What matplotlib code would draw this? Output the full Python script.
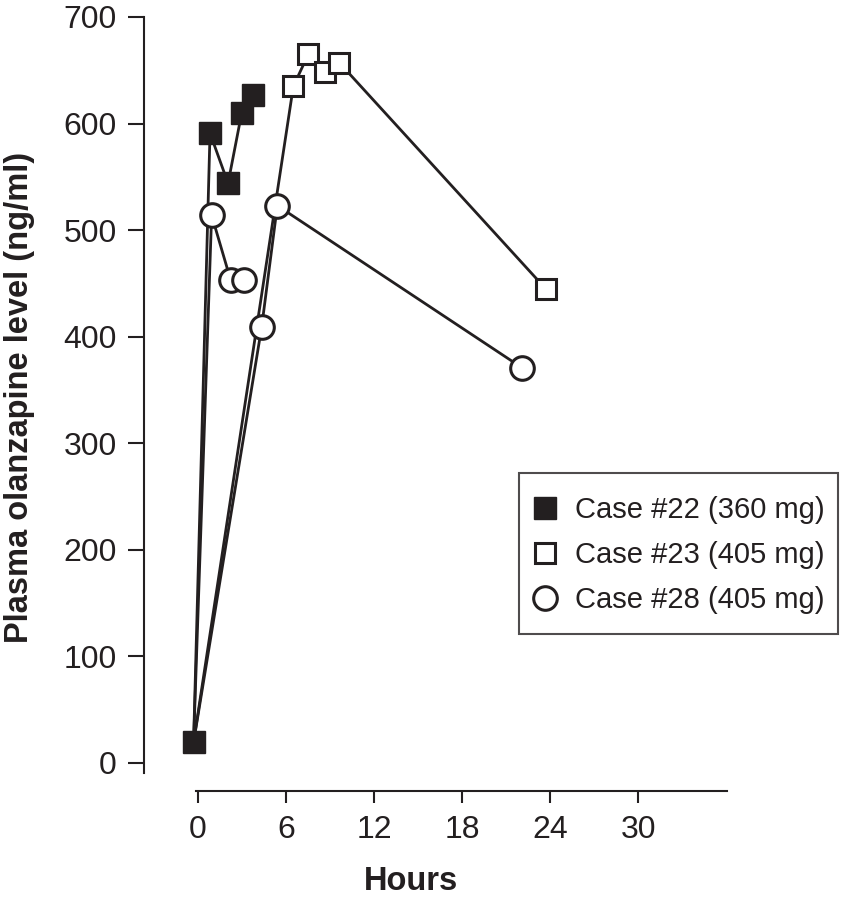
import numpy as np
import matplotlib
matplotlib.use("Agg")
import matplotlib.pyplot as plt
from matplotlib.lines import Line2D
from matplotlib.legend_handler import HandlerLine2D

plt.rcParams["font.family"] = ["Liberation Sans", "DejaVu Sans"]

INK = "#231f20"

# hours after ingestion / plasma olanzapine (ng/ml)
case22_t = [-0.3, 0.82, 2.05, 2.98, 3.77]
case22_v = [19.5, 591, 544, 610, 627]

case23_t = [-0.3, 6.5, 7.52, 8.66, 9.64, 23.7]
case23_v = [19.5, 635, 665, 648, 657, 445]

# case 28 is drawn as two runs from the same baseline
case28_t = [-0.3, 0.93, 2.23, 3.16, np.nan, -0.3, 4.34, 5.41, 22.07]
case28_v = [19.5, 514, 453, 453, np.nan, 19.5, 409, 523, 371]

labels = ["Case #22 (360 mg)", "Case #23 (405 mg)", "Case #28 (405 mg)"]
x_ticks = [0, 6, 12, 18, 24, 30]
y_ticks = [0, 100, 200, 300, 400, 500, 600, 700]


class LoweredHandler(HandlerLine2D):
    # tall handle boxes put the marker above the text centre, pull it down
    def create_artists(self, *args, **kwargs):
        arts = super().create_artists(*args, **kwargs)
        for a in arts:
            a.set_ydata(np.asarray(a.get_ydata()) - 4)
        return arts


fig = plt.figure(figsize=(8.41, 9.06), dpi=100)
ax = fig.add_axes([144 / 841, 115 / 906, 583 / 841, 774 / 906])

# lines first, markers on top
for t, v in [(case23_t, case23_v), (case28_t, case28_v), (case22_t, case22_v)]:
    ax.plot(t, v, color=INK, lw=2.0, zorder=2, solid_capstyle="round")

# the shared baseline only shows the filled square
t23, v23 = np.array(case23_t), np.array(case23_v)
t28, v28 = np.array(case28_t), np.array(case28_v)
ax.plot(t23[t23 > 0], v23[t23 > 0], ls="none", marker="s", ms=15, mfc="white",
        mec=INK, mew=2.2, zorder=3)
ax.plot(t28[t28 > 0], v28[t28 > 0], ls="none", marker="o", ms=17, mfc="white",
        mec=INK, mew=2.2, zorder=4)
ax.plot(case22_t, case22_v, ls="none", marker="s", ms=15.5, mfc=INK,
        mec=INK, mew=1, zorder=5)

ax.set_xlim(-3.68, 36.06)
ax.set_ylim(-26.3, 700)
ax.spines["top"].set_visible(False)
ax.spines["right"].set_visible(False)
ax.spines["left"].set_bounds(-9.4, 700)
ax.spines["bottom"].set_bounds(-0.15, 36.06)
for s in ("left", "bottom"):
    ax.spines[s].set_linewidth(1.5)
    ax.spines[s].set_color(INK)

ax.set_xticks(x_ticks)
ax.set_yticks(y_ticks)
ax.tick_params(axis="y", direction="out", length=11.5, width=1.5, pad=8,
               labelsize=23, colors=INK)
ax.tick_params(axis="x", direction="out", length=8.6, width=1.5, pad=9,
               labelsize=23, colors=INK)

fig.text(20 / 841, 1 - 397 / 906, "Plasma olanzapine level (ng/ml)",
         rotation=90, ha="center", va="center", fontsize=23.5,
         fontweight="bold", color=INK)
fig.text(411 / 841, 1 - 882 / 906, "Hours", ha="center", va="center",
         fontsize=23.5, fontweight="bold", color=INK)

handles = [
    Line2D([], [], ls="none", marker="s", ms=15.5, mfc=INK, mec=INK, mew=1),
    Line2D([], [], ls="none", marker="s", ms=15, mfc="white", mec=INK, mew=2.2),
    Line2D([], [], ls="none", marker="o", ms=17, mfc="white", mec=INK, mew=2.2),
]
leg = ax.legend(handles, labels, loc="upper right",
                bbox_to_anchor=(838 / 841, 1 - 473 / 906),
                bbox_transform=fig.transFigure, fontsize=21,
                frameon=True, fancybox=False, borderaxespad=0,
                borderpad=0.45, handlelength=0.89, handleheight=2.0,
                handletextpad=0.58, labelspacing=0.0,
                handler_map={Line2D: LoweredHandler()})
leg.get_frame().set_edgecolor(INK)
leg.get_frame().set_linewidth(1.5)
for txt in leg.get_texts():
    txt.set_color(INK)

fig.savefig("out.png", dpi=100)
